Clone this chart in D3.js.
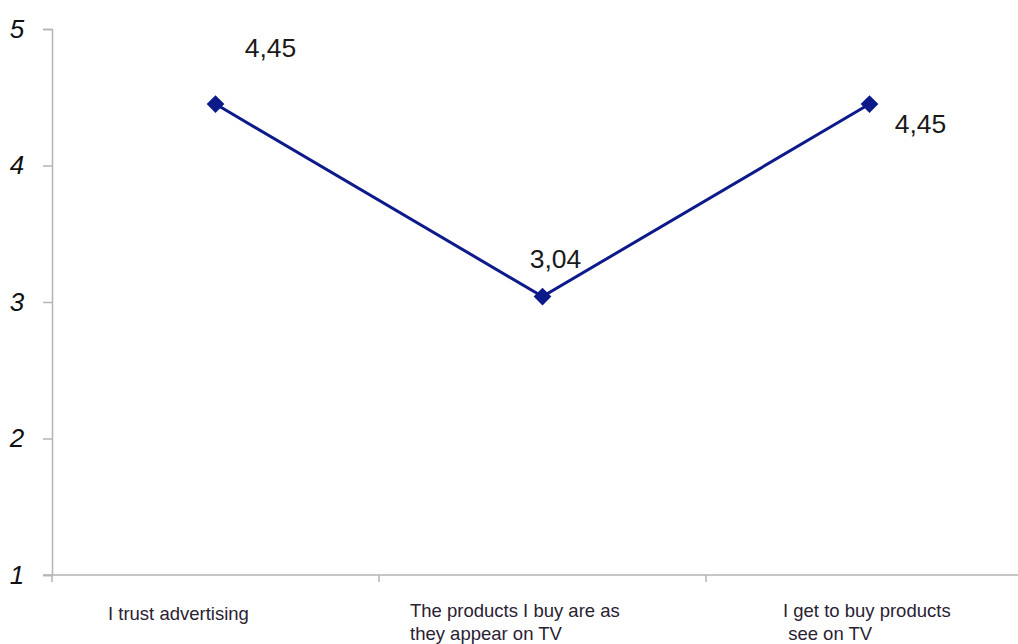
<!DOCTYPE html>
<html>
<head>
<meta charset="utf-8">
<script src="https://cdn.jsdelivr.net/npm/d3@7"></script>
<style>
  html, body { margin: 0; padding: 0; background: #fff; overflow: hidden; }
  svg { display: block; font-family: "Liberation Sans", Arial, sans-serif; }
</style>
</head>
<body>
<svg id="chart" width="1018" height="644"></svg>
<script>
// Survey statements and mean scores (scale 1–5)
const categories = [
  ["I trust advertising"],
  ["The products I buy are as", "they appear on TV"],
  ["I get to buy products", " see on TV"]
];
const values = [4.45, 3.04, 4.45];
const valueLabels = ["4,45", "3,04", "4,45"];
const yTicks = [1, 2, 3, 4, 5];

(function () {
const svg = d3.select("#chart");
const plotLeft = 52, plotTop = 29, plotBottom = 575;
const bandW = 327;

const x = d3.scaleBand()
  .domain(d3.range(categories.length))
  .range([plotLeft, plotLeft + bandW * categories.length])
  .paddingInner(0).paddingOuter(0);
const y = d3.scaleLinear().domain([1, 5]).range([plotBottom, plotTop]);

const axisColor = "#b4b4b4";

// Y axis
const yAxis = svg.append("g").attr("transform", `translate(${plotLeft},0)`)
  .call(d3.axisLeft(y).tickValues(yTicks).tickSize(9).tickPadding(18).tickFormat(d3.format("d")));
yAxis.select(".domain").attr("stroke", axisColor).attr("stroke-width", 1.5);
yAxis.selectAll(".tick line").attr("stroke", axisColor).attr("stroke-width", 1.5);
yAxis.selectAll(".tick text")
  .attr("fill", "#111").attr("font-size", 26).attr("font-style", "italic")
  .attr("text-anchor", "middle").attr("x", -35);

// X axis: tick marks sit on the category boundaries
const boundaries = d3.range(categories.length + 1).map(i => plotLeft + i * bandW);
svg.append("line")
  .attr("x1", plotLeft - 9).attr("x2", 1018)
  .attr("y1", plotBottom).attr("y2", plotBottom)
  .attr("stroke", axisColor).attr("stroke-width", 1.5);
svg.selectAll(".xtick").data(boundaries).join("line")
  .attr("class", "xtick")
  .attr("x1", d => d).attr("x2", d => d)
  .attr("y1", plotBottom).attr("y2", plotBottom + 7)
  .attr("stroke", axisColor).attr("stroke-width", 1.5);

// Category labels, left-aligned within each band
const labelDx = [56, 31, 77];
const labelY = [620, 617, 617];
categories.forEach((lines, i) => {
  const lx = x(i) + labelDx[i];
  const t = svg.append("text")
    .attr("x", lx)
    .attr("y", labelY[i])
    .attr("text-anchor", "start")
    .attr("font-size", 18.5)
    .attr("fill", "#2a2233");
  lines.forEach((ln, j) => {
    t.append("tspan")
      .attr("x", lx)
      .attr("dy", j === 0 ? 0 : 23)
      .attr("xml:space", "preserve")
      .text(ln);
  });
});

// Series line
const cx = i => x(i) + x.bandwidth() / 2;
const lineColor = "#0d1a8a";
svg.append("path")
  .datum(values)
  .attr("fill", "none")
  .attr("stroke", lineColor)
  .attr("stroke-width", 3)
  .attr("d", d3.line().x((d, i) => cx(i)).y(d => y(d)));

// Diamond markers
svg.selectAll(".marker").data(values).join("path")
  .attr("class", "marker")
  .attr("transform", (d, i) => `translate(${cx(i)},${y(d)})`)
  .attr("d", d3.symbol().type(d3.symbolDiamond2).size(200))
  .attr("fill", lineColor);

// Value labels
const valDx = [55, 13, 51];
const valDy = [-47, -29, 29];
svg.selectAll(".val").data(values).join("text")
  .attr("class", "val")
  .attr("x", (d, i) => cx(i) + valDx[i])
  .attr("y", (d, i) => y(d) + valDy[i])
  .attr("text-anchor", "middle")
  .attr("font-size", 26.5)
  .attr("fill", "#1a1a1a")
  .text((d, i) => valueLabels[i]);
})();
</script>
</body>
</html>
